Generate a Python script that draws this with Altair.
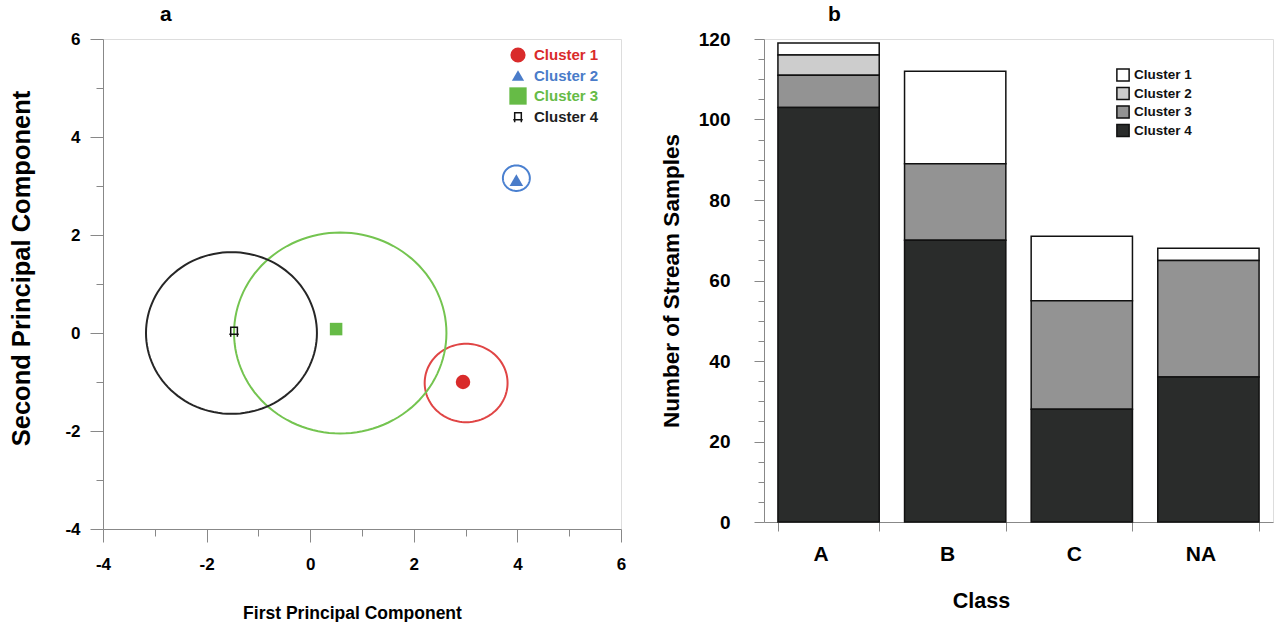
import altair as alt
import numpy as np
import pandas as pd

# ---------------- data ----------------
clusters = ["Cluster 1", "Cluster 2", "Cluster 3", "Cluster 4"]

# panel a: cluster centroids in PC space
cent_x = [2.95, 3.98, 0.50, -1.47]
cent_y = [-1.00, 3.12, 0.08, 0.04]
# panel a: circles (centre and radius)
ring_x = [3.01, 3.98, 0.58, -1.52]
ring_y = [-1.02, 3.16, 0.00, 0.00]
ring_r = [0.80, 0.26, 2.05, 1.65]

# panel b: stream samples per class and cluster
classes = ["A", "B", "C", "NA"]
n_c1 = [3, 23, 16, 3]
n_c2 = [5, 0, 0, 0]
n_c3 = [8, 19, 27, 29]
n_c4 = [103, 70, 28, 36]

# ---------------- styles ----------------
FONT = "Liberation Sans, Arial, sans-serif"
col_a = ["#d92b2b", "#4a7cc9", "#66bb46", "#1e1e1e"]
ring_col = ["#e04545", "#4a80d0", "#74c450", "#262626"]
fill_b = ["#ffffff", "#cdcdcd", "#939393", "#2a2c2b"]
sym4 = "M-0.7,-0.8H0.7V0.7H-0.7Z M-1,0.7H1 M-0.7,0.7V1.2 M0.7,0.7V1.2"

# ---------------- panel a ----------------
cent_df = pd.DataFrame({"cluster": clusters, "x": cent_x, "y": cent_y})
ang = np.linspace(0, 2 * np.pi, 121)
ring_rows = []
for c, cx, cy, r in zip(clusters, ring_x, ring_y, ring_r):
    for i, a in enumerate(ang):
        ring_rows.append({"cluster": c, "i": i, "x": cx + r * np.cos(a), "y": cy + r * np.sin(a)})
ring_df = pd.DataFrame(ring_rows)

ticks_a = [v / 2 for v in range(-8, 13)]
cond_size = {"condition": {"test": "datum.value % 2 == 0", "value": 13}, "value": 7}
lab_a = "datum.value % 2 == 0 ? toString(datum.value) : ''"

xs_a = alt.Scale(domain=[-4, 6], nice=False, zero=False)
ys_a = alt.Scale(domain=[-4, 6], nice=False, zero=False)
x_axis_a = alt.Axis(values=ticks_a, labelExpr=lab_a, labelFlush=False,
                    tickSize=cond_size, labelPadding=14, title="First Principal Component",
                    titlePadding=32, titleFont=FONT, titleFontSize=17.5, titleX=249,
                    labelFont=FONT, labelFontSize=17, labelFontWeight="bold", grid=False)
y_axis_a = alt.Axis(values=ticks_a, labelExpr=lab_a, labelFlush=False,
                    tickSize=cond_size, labelPadding=10, title="Second Principal Component",
                    titlePadding=30, titleFont=FONT, titleFontSize=25.5, titleY=229,
                    labelFont=FONT, labelFontSize=17, labelFontWeight="bold", grid=False)

ring_col_scale = alt.Scale(domain=clusters, range=ring_col)
pt_col_scale = alt.Scale(domain=clusters, range=col_a)

rings = alt.Chart(ring_df).mark_line(strokeWidth=2).encode(
    x=alt.X("x:Q", scale=xs_a, axis=x_axis_a),
    y=alt.Y("y:Q", scale=ys_a, axis=y_axis_a),
    stroke=alt.Stroke("cluster:N", scale=ring_col_scale, legend=None),
    detail="cluster:N",
    order="i:Q",
)

pts = alt.Chart(cent_df).transform_filter("datum.cluster != 'Cluster 4'").mark_point(
    filled=True, opacity=1).encode(
    x=alt.X("x:Q", scale=xs_a),
    y=alt.Y("y:Q", scale=ys_a),
    color=alt.Color("cluster:N", scale=pt_col_scale, legend=None),
    shape=alt.Shape("cluster:N", scale=alt.Scale(domain=clusters, range=["circle", "triangle-up", "square", sym4]), legend=None),
    size=alt.Size("cluster:O", scale=alt.Scale(domain=clusters, range=[210, 130, 290, 110]), legend=None),
)
pt4 = alt.Chart(cent_df).transform_filter("datum.cluster == 'Cluster 4'").mark_point(
    filled=False, shape=sym4, size=90, strokeWidth=1.5, color="#111", opacity=1).encode(
    x=alt.X("x:Q", scale=xs_a),
    y=alt.Y("y:Q", scale=ys_a),
)

leg_layers = []
leg_shapes = ["circle", "triangle-up", "square", sym4]
leg_sizes = [230, 150, 300, 90]
for i, c in enumerate(clusters):
    ldf = pd.DataFrame({"label": [c]})
    yy = 16 + i * 20.5
    if i < 3:
        sym = alt.Chart(ldf).mark_point(filled=True, opacity=1, shape=leg_shapes[i], size=leg_sizes[i],
                                        color=col_a[i]).encode(x=alt.value(415), y=alt.value(yy))
    else:
        sym = alt.Chart(ldf).mark_point(filled=False, opacity=1, shape=sym4, size=leg_sizes[i], strokeWidth=1.5,
                                        color="#111").encode(x=alt.value(415), y=alt.value(yy))
    txt = alt.Chart(ldf).mark_text(align="left", baseline="middle", font=FONT, fontSize=15,
                                   fontWeight="bold", color=col_a[i]).encode(
        x=alt.value(431), y=alt.value(yy), text="label:N")
    leg_layers += [sym, txt]

panel_a = alt.layer(rings, pts, pt4, *leg_layers).properties(
    width=518, height=490,
    title=alt.TitleParams("a", anchor="start", frame="group", dx=57, fontSize=21, font=FONT,
                          fontWeight="bold", offset=5),
)

# ---------------- panel b ----------------
rows = []
for cl, cnts in zip(clusters, [n_c1, n_c2, n_c3, n_c4]):
    for k, v in zip(classes, cnts):
        if v > 0:
            rows.append({"class": k, "cluster": cl, "count": v, "ord": 4 - clusters.index(cl)})
bar_df = pd.DataFrame(rows)
fill_scale = alt.Scale(domain=clusters, range=fill_b)

ticks_b = list(range(0, 121, 5))
bars = alt.Chart(bar_df).mark_bar(stroke="#111", strokeWidth=1.5).encode(
    x=alt.X("class:N", sort=classes,
            scale=alt.Scale(paddingInner=0.2, paddingOuter=0.11),
            axis=alt.Axis(title="Class", labelAngle=0, tickSize=9, tickBand="extent", labelAlign="center",
                          labelOffset=-8, labelPadding=12, titlePadding=26, labelFont=FONT,
                          labelFontSize=21, labelFontWeight="bold", titleFont=FONT,
                          titleFontSize=21.5, titleX=217, grid=False)),
    y=alt.Y("count:Q", stack="zero", scale=alt.Scale(domain=[0, 120], nice=False),
            axis=alt.Axis(values=ticks_b, labelExpr="datum.value % 20 == 0 ? datum.label : ''",
                          tickSize={"condition": {"test": "datum.value % 20 == 0", "value": 10}, "value": 6},
                          labelPadding=24, title="Number of Stream Samples", titlePadding=15,
                          labelFont=FONT, labelFontSize=19, labelFontWeight="bold",
                          titleFont=FONT, titleFontSize=22.5, grid=False)),
    fill=alt.Fill("cluster:N", scale=fill_scale, legend=None),
    order=alt.Order("ord:Q"),
)

leg_b = []
for i, c in enumerate(clusters):
    ldf = pd.DataFrame({"label": [c]})
    yy = 36 + i * 18.5
    sq = alt.Chart(ldf).mark_square(size=150, stroke="#111", strokeWidth=1.5, opacity=1,
                                    fill=fill_b[i]).encode(x=alt.value(359), y=alt.value(yy))
    tx = alt.Chart(ldf).mark_text(align="left", baseline="middle", font=FONT, fontSize=13.5,
                                  fontWeight="bold", color="#111").encode(
        x=alt.value(370), y=alt.value(yy), text="label:N")
    leg_b += [sq, tx]

panel_b = alt.layer(bars, *leg_b).properties(
    width=509, height=483,
    title=alt.TitleParams("b", anchor="start", frame="group", dx=64, fontSize=21, font=FONT,
                          fontWeight="bold", offset=5),
)

chart = alt.hconcat(panel_a, panel_b, spacing=32).properties(
    padding={"left": 9, "top": 3, "right": 0, "bottom": 0}
).configure_view(stroke=None).configure_axis(
    domainColor="#111", domainWidth=2, tickColor="#111", tickWidth=2,
    labelColor="#111", titleColor="#222", labelFontWeight="bold", titleFontWeight="bold",
).configure(background="white")

chart.save("out.html", embed_options={"renderer": "svg", "actions": False})
